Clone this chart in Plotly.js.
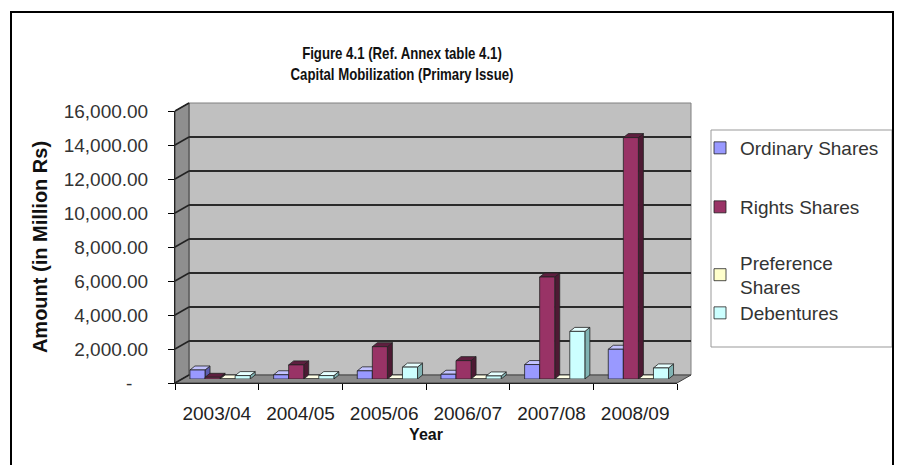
<!DOCTYPE html>
<html>
<head>
<meta charset="utf-8">
<script src="https://cdn.plot.ly/plotly-3.0.1.min.js"></script>
<style>html,body{margin:0;padding:0;background:#fff;}#chart{width:899px;height:465px;}</style>
</head>
<body>
<div id="chart"></div>
<script>
// ---- data ----
const years = ['2003/04', '2004/05', '2005/06', '2006/07', '2007/08', '2008/09'];
const ordinaryShares = [530, 250, 480, 280, 850, 1750];
const rightsShares = [100, 830, 1900, 1080, 6000, 14200];
const preferenceShares = [0, 0, 0, 0, 0, 0];
const debentures = [200, 200, 700, 180, 2800, 650];
const seriesNames = ['Ordinary Shares', 'Rights Shares', 'Preference<br>Shares', 'Debentures'];
const yTickVals = [0, 2000, 4000, 6000, 8000, 10000, 12000, 14000, 16000];
const yTickText = yTickVals.map(v => v === 0 ? '-\u00a0\u00a0\u00a0' :
  v.toLocaleString('en-US', {minimumFractionDigits: 2, maximumFractionDigits: 2}));

// ---- geometry / style ----
const W = 899, H = 465;
const px = x => x / W;
const py = y => 1 - y / H;
const FRONT = {x0: 175, x1: 677, y0: 383, y1: 111};
const DEPTH = {dx: 14, dy: 8};
const BACK = {x0: FRONT.x0 + DEPTH.dx, x1: FRONT.x1 + DEPTH.dx, y0: FRONT.y0 - DEPTH.dy, y1: FRONT.y1 - DEPTH.dy};
const MID = {x0: FRONT.x0 + DEPTH.dx / 2, x1: FRONT.x1 + DEPTH.dx / 2, y0: FRONT.y0 - DEPTH.dy / 2, y1: FRONT.y1 - DEPTH.dy / 2};
const YMAX = 16000;
const FONT = 'Liberation Sans, Arial, sans-serif';

const seriesData = [ordinaryShares, rightsShares, preferenceShares, debentures];
const frontColors = ['#9999FF', '#993366', '#FFFFCC', '#CCFFFF'];
const sideColors = ['#5c5cb0', '#4d1a33', '#b3b38a', '#80b3b3'];
const topColors = ['#c2c2ff', '#5e1f3f', '#ffffe6', '#e6ffff'];
const barWidth = 0.18, barStep = 0.18, barStart = -0.405;
const barDx = 5, barDy = 4; // px
const xUnitPerPx = 6 / (MID.x1 - MID.x0);
const yUnitPerPx = YMAX / (MID.y0 - MID.y1);
const idx = years.map((_, i) => i);

const traces = [];
const shapes = [];

// back wall, side wall, floor
shapes.push({type: 'rect', xref: 'paper', yref: 'paper', layer: 'below',
  x0: px(BACK.x0), x1: px(BACK.x1), y0: py(BACK.y0), y1: py(BACK.y1),
  fillcolor: '#c0c0c0', line: {color: '#808080', width: 1}});
const poly = pts => 'M' + pts.map(p => px(p[0]) + ',' + py(p[1])).join(' L') + ' Z';
shapes.push({type: 'path', xref: 'paper', yref: 'paper', layer: 'below',
  path: poly([[FRONT.x0, FRONT.y0], [FRONT.x0, FRONT.y1], [BACK.x0, BACK.y1], [BACK.x0, BACK.y0]]),
  fillcolor: '#8f8f8f', line: {color: '#404040', width: 1}});
shapes.push({type: 'path', xref: 'paper', yref: 'paper', layer: 'below',
  path: poly([[FRONT.x0, FRONT.y0], [FRONT.x1, FRONT.y0], [BACK.x1, BACK.y0], [BACK.x0, BACK.y0]]),
  fillcolor: '#8a8a8a', line: {color: '#404040', width: 1}});
// gridline connectors on side wall
yTickVals.forEach(v => {
  const yf = FRONT.y0 - (FRONT.y0 - FRONT.y1) * v / YMAX;
  const yb = BACK.y0 - (BACK.y0 - BACK.y1) * v / YMAX;
  shapes.push({type: 'line', xref: 'paper', yref: 'paper', layer: 'below',
    x0: px(FRONT.x0), y0: py(yf), x1: px(BACK.x0), y1: py(yb), line: {color: '#222', width: 1.5}});
});

// back wall gridlines carrier trace (subplot x/y, drawn first)
traces.push({type: 'scatter', x: idx, y: idx.map(() => null), xaxis: 'x', yaxis: 'y',
  showlegend: false, hoverinfo: 'skip', mode: 'markers'});
// front axes carrier trace (subplot x2/y2)
traces.push({type: 'scatter', x: years, y: years.map(() => null), xaxis: 'x2', yaxis: 'y2',
  showlegend: false, hoverinfo: 'skip', mode: 'markers'});

// bars (mid-depth plane, subplot x3/y3)
seriesData.forEach((vals, s) => {
  traces.push({type: 'bar', x: idx, y: vals, name: seriesNames[s], xaxis: 'x3', yaxis: 'y3',
    offset: barStart + s * barStep, width: barWidth,
    marker: {color: frontColors[s], line: {color: '#222', width: 0.8}},
    legend: s === 0 ? 'legend' : 'legend' + (s + 1), hoverinfo: 'x+y'});
});
// 3D side and top faces, drawn per category from left to right
const dxu = barDx * xUnitPerPx, dyu = barDy * yUnitPerPx;
idx.forEach(i => {
  seriesData.forEach((vals, s) => {
    const v = vals[i];
    const x0 = i + barStart + s * barStep, x1 = x0 + barWidth;
    const side = `M${x1},0 L${x1 + dxu},${dyu} L${x1 + dxu},${v + dyu} L${x1},${v} Z`;
    const top = `M${x0},${v} L${x1},${v} L${x1 + dxu},${v + dyu} L${x0 + dxu},${v + dyu} Z`;
    if (v > 0) shapes.push({type: 'path', xref: 'x3', yref: 'y3', layer: 'between', path: side,
      fillcolor: sideColors[s], line: {color: '#222', width: 0.8}});
    shapes.push({type: 'path', xref: 'x3', yref: 'y3', layer: 'between', path: top,
      fillcolor: topColors[s], line: {color: '#222', width: 0.8}});
  });
});

// legend box
shapes.push({type: 'rect', xref: 'paper', yref: 'paper', layer: 'below',
  x0: px(711), x1: px(892), y0: py(130), y1: py(347), fillcolor: 'rgba(0,0,0,0)', line: {color: '#999', width: 1}});
// outer frame
shapes.push({type: 'rect', xref: 'paper', yref: 'paper', layer: 'above',
  x0: px(11), x1: px(893), y0: py(12), y1: py(475), fillcolor: 'rgba(0,0,0,0)', line: {color: '#000', width: 2}});

const legendY = [148, 207, 275, 313];
const legendFont = {family: FONT, size: 19, color: '#333'};
const mkLegend = y => ({x: px(700), xanchor: 'left', y: py(y), yanchor: 'middle',
  bgcolor: 'rgba(0,0,0,0)', borderwidth: 0, font: legendFont, itemclick: false});

const TITLE_X = 402;
const layout = {
  width: W, height: H,
  margin: {l: 0, r: 0, t: 0, b: 0},
  paper_bgcolor: '#fff', plot_bgcolor: 'rgba(0,0,0,0)',
  showlegend: true,
  barmode: 'overlay',
  title: {text: 'Figure 4.1 (Ref. Annex table 4.1)<br>Capital Mobilization (Primary Issue)',
    x: px(TITLE_X), xanchor: 'center', y: py(59), yanchor: 'middle', xref: 'paper', yref: 'paper',
    font: {family: FONT, size: 16.5, weight: 'bold', color: '#111'}},
  xaxis: {domain: [px(BACK.x0), px(BACK.x1)], range: [-0.5, 5.5], anchor: 'y',
    showticklabels: false, ticks: '', showgrid: false, zeroline: false, showline: false, fixedrange: true},
  yaxis: {domain: [py(BACK.y0), py(BACK.y1)], range: [0, YMAX], anchor: 'x',
    tickvals: yTickVals, showticklabels: false, ticks: '', showgrid: true, gridcolor: '#2a2a2a', gridwidth: 1.5,
    zeroline: false, showline: false, fixedrange: true},
  xaxis2: {domain: [px(FRONT.x0), px(FRONT.x1)], anchor: 'y2', type: 'category',
    range: [-0.5, 5.5], tickson: 'boundaries', ticks: 'outside', ticklen: 6, tickcolor: '#000',
    ticklabelstandoff: 13,
    showline: true, linecolor: '#222', linewidth: 1, showgrid: false, zeroline: false,
    tickfont: {family: FONT, size: 19, color: '#222'},
    title: {text: 'Year', font: {family: FONT, size: 16, weight: 'bold', color: '#111'}, standoff: 6},
    fixedrange: true},
  yaxis2: {domain: [py(FRONT.y0), py(FRONT.y1)], anchor: 'x2', range: [0, YMAX],
    tickvals: yTickVals, ticktext: yTickText, ticks: 'outside', ticklen: 6, tickcolor: '#000',
    ticklabelstandoff: 16,
    showline: true, linecolor: '#222', linewidth: 1, showgrid: false, zeroline: false,
    tickfont: {family: FONT, size: 19, color: '#333'},
    title: {text: 'Amount (in Million Rs)', font: {family: FONT, size: 20, weight: 'bold', color: '#111'}, standoff: 10},
    fixedrange: true},
  xaxis3: {domain: [px(MID.x0), px(MID.x1)], range: [-0.5, 5.5], anchor: 'y3',
    visible: false, fixedrange: true},
  yaxis3: {domain: [py(MID.y0), py(MID.y1)], range: [0, YMAX], anchor: 'x3',
    visible: false, fixedrange: true},
  shapes: shapes,
  legend: mkLegend(legendY[0]),
  legend2: mkLegend(legendY[1]),
  legend3: mkLegend(legendY[2]),
  legend4: mkLegend(legendY[3])
};

Plotly.newPlot('chart', traces, layout, {displayModeBar: false, staticPlot: true}).then(() => {
  // condense the title horizontally, like the narrow font of the original
  const t = document.querySelector('.gtitle');
  if (t) {
    const cx = parseFloat(t.getAttribute('x')) || TITLE_X;
    t.setAttribute('transform', `translate(${cx},0) scale(0.8,1) translate(${-cx},0)`);
  }
});
</script>
</body>
</html>
